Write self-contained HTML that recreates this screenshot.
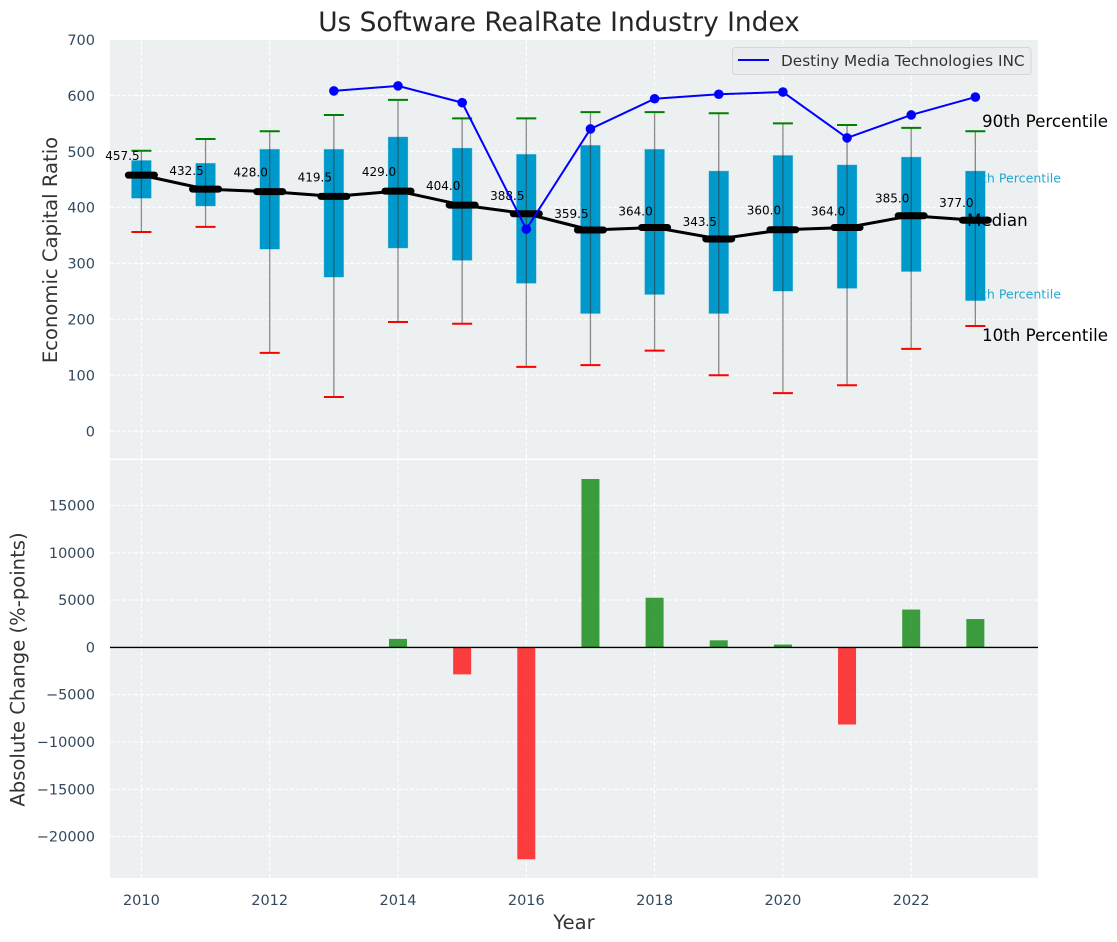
<!DOCTYPE html>
<html>
<head>
<meta charset="utf-8">
<style>
html,body{margin:0;padding:0;background:#fff;width:1117px;height:942px;overflow:hidden}
svg{display:block}
text{font-family:"DejaVu Sans","Liberation Sans",sans-serif}
</style>
</head>
<body>
<svg id="chart" width="1117" height="942" viewBox="0 0 1117 942" xmlns="http://www.w3.org/2000/svg"></svg>
<script>
const years = [2010,2011,2012,2013,2014,2015,2016,2017,2018,2019,2020,2021,2022,2023];
const p90 = [501,522,536,565,592,559,559,570,570,568,550,547,542,536];
const p75 = [484,479,504,504,526,506,495,511,504,465,493,476,490,465];
const medians = [457.5,432.5,428,419.5,429,404,388.5,359.5,364,343.5,360,364,385,377];
const p25 = [416,402,325,275,327,305,264,210,244,210,250,255,285,233];
const p10 = [356,365,140,61,195,192,115,118,144,100,68,82,147,188];
const companyYears = [2013,2014,2015,2016,2017,2018,2019,2020,2021,2022,2023];
const companyValues = [608,617,587,361,540,594,602,606,524,565,597];
const changeYears = [2014,2015,2016,2017,2018,2019,2020,2021,2022,2023];
const changeValues = [900,-2850,-22400,17800,5250,750,300,-8150,4000,3000];
const xTicks = [2010,2012,2014,2016,2018,2020,2022];
const topTicks = [0,100,200,300,400,500,600,700];
const bottomTicks = [-20000,-15000,-10000,-5000,0,5000,10000,15000];

const svg = document.getElementById('chart');
const NS = 'http://www.w3.org/2000/svg';
const L = 110, R = 1038, T1 = 40, B1 = 458.5, T2 = 460, B2 = 878;

function xScale(y){ return 141.4 + (y - 2010) * 64.15; }
function yTop(v){ return 431.2 - v * 0.5597; }
function yBottom(v){ return 647.4 - v * 0.00946; }

function make(tag, attrs, txt){
  const el = document.createElementNS(NS, tag);
  for (const k in attrs) el.setAttribute(k, attrs[k]);
  if (txt !== undefined) el.textContent = txt;
  svg.appendChild(el);
  return el;
}
function fmt(v){ return v < 0 ? '\u2212' + Math.abs(v) : String(v); }

let e;
e = make('text', {x:559, y:31, 'text-anchor':'middle', 'font-size':26.4, fill:'#262626'}, 'Us Software RealRate Industry Index');



e = make('rect', {x:L, y:T1, width:R-L, height:B1-T1, fill:'#ecf0f1'});


e = make('rect', {x:L, y:T2, width:R-L, height:B2-T2, fill:'#ecf0f1'});



xTicks.forEach(function(t){
  const x = xScale(t);
  e = make('line', {x1:x, x2:x, y1:T1, y2:B1, stroke:'#fff', 'stroke-width':1.1, 'stroke-dasharray':'4 2'});
  
  
  e = make('line', {x1:x, x2:x, y1:T2, y2:B2, stroke:'#fff', 'stroke-width':1.1, 'stroke-dasharray':'4 2'});
  
  
  e = make('text', {x:x, y:905, 'text-anchor':'middle', 'font-size':14.5, fill:'#34495e'}, String(t));
  
  
});
topTicks.forEach(function(t){
  const y = yTop(t);
  e = make('line', {x1:L, x2:R, y1:y, y2:y, stroke:'#fff', 'stroke-width':1.1, 'stroke-dasharray':'4 2'});
  
  
  e = make('text', {x:95, y:y+5.4, 'text-anchor':'end', 'font-size':14.5, fill:'#34495e'}, String(t));
  
  
});
bottomTicks.forEach(function(t){
  const y = yBottom(t);
  e = make('line', {x1:L, x2:R, y1:y, y2:y, stroke:'#fff', 'stroke-width':1.1, 'stroke-dasharray':'4 2'});
  
  
  e = make('text', {x:95, y:y+5, 'text-anchor':'end', 'font-size':14.5, fill:'#34495e'}, fmt(t));
  
  
});

e = make('text', {x:57, y:250, 'text-anchor':'middle', 'font-size':19.6, fill:'#333', transform:'rotate(-90 57 250)'}, 'Economic Capital Ratio');


e = make('text', {x:24.5, y:669.5, 'text-anchor':'middle', 'font-size':19.6, fill:'#333', transform:'rotate(-90 24.5 669.5)'}, 'Absolute Change (%-points)');


e = make('text', {x:574, y:929, 'text-anchor':'middle', 'font-size':19.6, fill:'#333'}, 'Year');



e = make('text', {x:1061, y:182.5, 'text-anchor':'end', 'font-size':12.6, fill:'#0099cc', 'fill-opacity':0.85}, '75th Percentile');


e = make('text', {x:1061, y:298.5, 'text-anchor':'end', 'font-size':12.6, fill:'#0099cc', 'fill-opacity':0.85}, '25th Percentile');



years.forEach(function(yr, i){
  const x = xScale(yr);
  e = make('rect', {x:x-10, y:yTop(p75[i]), width:20, height:yTop(p25[i])-yTop(p75[i]), fill:'#0099cc', stroke:'#add8e6', 'stroke-width':0.6, 'stroke-opacity':0.6});
  
  
  e = make('line', {x1:x, x2:x, y1:yTop(p90[i]), y2:yTop(p10[i]), stroke:'#333', 'stroke-width':1.3, 'stroke-opacity':0.55});
  
  
  e = make('line', {x1:x-10, x2:x+10, y1:yTop(p90[i]), y2:yTop(p90[i]), stroke:'#008000', 'stroke-width':2});
  
  
  e = make('line', {x1:x-10, x2:x+10, y1:yTop(p10[i]), y2:yTop(p10[i]), stroke:'#ff0000', 'stroke-width':2});
  
  
});

e = make('polyline', {points:years.map(function(y,i){return xScale(y)+','+yTop(medians[i]);}).join(' '), fill:'none', stroke:'#000', 'stroke-width':3, 'stroke-linejoin':'round'});


years.forEach(function(yr, i){
  const x = xScale(yr), y = yTop(medians[i]);
  const nudge = {2011:1, 2016:1, 2017:3, 2018:3, 2019:2, 2021:3, 2022:2, 2023:2}[yr] || 0;
  e = make('line', {x1:x-13, x2:x+13, y1:y, y2:y, stroke:'#000', 'stroke-width':7, 'stroke-linecap':'round'});
  
  
  e = make('text', {x:x-19, y:y-15+nudge, 'text-anchor':'middle', 'font-size':12, fill:'#000'}, medians[i].toFixed(1));
  
  
});

e = make('polyline', {points:companyYears.map(function(y,i){return xScale(y)+','+yTop(companyValues[i]);}).join(' '), fill:'none', stroke:'#0000ff', 'stroke-width':2});


companyYears.forEach(function(yr, i){
  e = make('circle', {cx:xScale(yr), cy:yTop(companyValues[i]), r:4.8, fill:'#0000ff'});
  
  
});

e = make('text', {x:982, y:127, 'font-size':16.7, fill:'#000'}, '90th Percentile');


e = make('text', {x:967, y:226, 'font-size':16.7, fill:'#000'}, 'Median');


e = make('text', {x:982, y:341, 'font-size':16.7, fill:'#000'}, '10th Percentile');



e = make('rect', {x:732.5, y:47.5, width:298.5, height:27, rx:3, fill:'#eaecf0', stroke:'#d4d6d8', 'stroke-width':1});


e = make('line', {x1:738, x2:769, y1:60, y2:60, stroke:'#0000ff', 'stroke-width':2});


e = make('text', {x:781, y:66, 'font-size':15.3, fill:'#333'}, 'Destiny Media Technologies INC');



changeYears.forEach(function(yr, i){
  const v = changeValues[i], y0 = yBottom(0), y1 = yBottom(v);
  e = make('rect', {x:xScale(yr)-9, y:Math.min(y0,y1), width:18, height:Math.abs(y1-y0), fill:v >= 0 ? '#008000' : '#ff0000', 'fill-opacity':0.75});
  
  
});
e = make('line', {x1:L, x2:R, y1:yBottom(0), y2:yBottom(0), stroke:'#000', 'stroke-width':1.4});


</script>
</body>
</html>
